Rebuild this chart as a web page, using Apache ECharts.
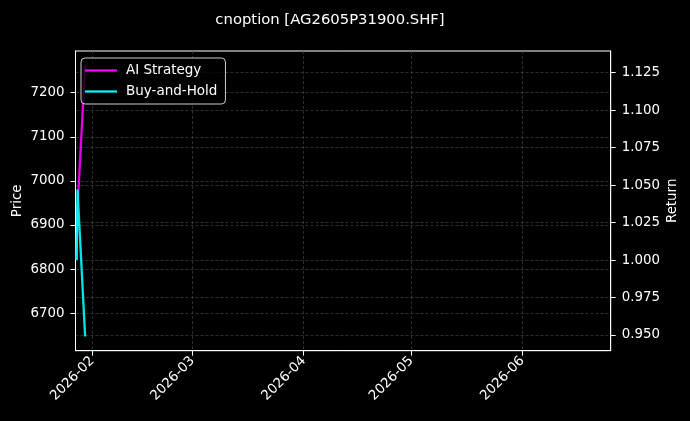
<!DOCTYPE html>
<html>
<head>
<meta charset="utf-8">
<script src="https://cdn.jsdelivr.net/npm/echarts@6/dist/echarts.min.js"></script>
<style>
  html, body { margin: 0; padding: 0; background: #000; }
  #chart { width: 690px; height: 421px; }
</style>
</head>
<body>
<div id="chart"></div>
<script>
// 数据
var dates = ['2026-01-27 15:00', '2026-01-27 21:00', '2026-01-30 00:00'];
var aiReturn = [1.000, 1.035, 1.130];
var bhReturn = [1.000, 1.047, 0.949];

// 刻度
var monthTicks = ['2026-02-01', '2026-03-01', '2026-04-01', '2026-05-01', '2026-06-01'];
var priceTicks = [6700, 6800, 6900, 7000, 7100, 7200];
var returnTicks = [0.950, 0.975, 1.000, 1.025, 1.050, 1.075, 1.100, 1.125];

// 轴范围
var xRange = ['2026-01-27 07:30', '2026-06-25 16:00'];
var priceRange = [6615, 7294.5];
var returnRange = [0.9395, 1.1395];

function ts(s) {
  if (s.length == 10) s = s + ' 00:00';
  return new Date(s.replace(' ', 'T')).getTime();
}

var font = 'DejaVu Sans';
var fs = 13.4;
var gridLine = {
  show: true,
  lineStyle: { color: '#4d4d4d', width: 0.6, type: [3, 2] }
};

var chart = echarts.init(document.getElementById('chart'));

chart.setOption({
  backgroundColor: '#000',
  textStyle: { fontFamily: font },
  title: {
    text: 'cnoption [AG2605P31900.SHF]',
    left: 325,
    top: 8,
    textAlign: 'center',
    textStyle: { color: '#fff', fontSize: 14.8, fontWeight: 'normal', fontFamily: font }
  },
  legend: {
    data: ['AI Strategy', 'Buy-and-Hold'],
    orient: 'vertical',
    left: 81,
    top: 58,
    padding: [5, 8, 5, 4],
    icon: 'rect',
    itemWidth: 32,
    itemHeight: 2.2,
    itemGap: 6,
    backgroundColor: 'rgba(0,0,0,0.8)',
    borderColor: '#cccccc',
    borderWidth: 1,
    borderRadius: 4,
    textStyle: { color: '#fff', fontSize: 13.5, fontFamily: font, lineHeight: 15, padding: [0, 0, 0, 4] }
  },
  grid: {
    left: 75.5,
    right: 79.3,
    top: 51,
    bottom: 70.3,
    outerBoundsMode: 'none',
    show: true,
    borderColor: '#fff',
    borderWidth: 1,
    backgroundColor: 'transparent'
  },
  xAxis: {
    type: 'value',
    min: ts(xRange[0]),
    max: ts(xRange[1]),
    axisLine: { show: true, lineStyle: { color: '#fff' } },
    axisTick: {
      show: true,
      length: 5,
      lineStyle: { color: '#fff' },
      customValues: monthTicks.map(ts)
    },
    axisLabel: {
      color: '#fff',
      fontSize: fs,
      fontFamily: font,
      rotate: 45,
      margin: 8,
      customValues: monthTicks.map(ts),
      formatter: function (v) {
        var d = new Date(v);
        var m = d.getMonth() + 1;
        return d.getFullYear() + '-' + (m < 10 ? '0' + m : m);
      }
    },
    splitLine: gridLine
  },
  yAxis: [
    {
      type: 'value',
      position: 'left',
      min: priceRange[0],
      max: priceRange[1],
      name: 'Price',
      nameLocation: 'middle',
      nameRotate: 90,
      nameGap: 51,
      nameMoveOverlap: false,
      nameTextStyle: { color: '#fff', fontSize: fs, fontFamily: font },
      axisLine: { show: true, lineStyle: { color: '#fff' } },
      axisTick: { show: true, length: 5, lineStyle: { color: '#fff' }, customValues: priceTicks },
      axisLabel: {
        color: '#fff', fontSize: fs, fontFamily: font, margin: 11,
        customValues: priceTicks,
        formatter: function (v) { return String(v); }
      },
      splitLine: gridLine
    },
    {
      type: 'value',
      position: 'right',
      min: returnRange[0],
      max: returnRange[1],
      name: 'Return',
      nameLocation: 'middle',
      nameRotate: 90,
      nameGap: 55,
      nameMoveOverlap: false,
      nameTextStyle: { color: '#fff', fontSize: fs, fontFamily: font },
      axisLine: { show: true, lineStyle: { color: '#fff' } },
      axisTick: { show: true, length: 5, lineStyle: { color: '#fff' }, customValues: returnTicks },
      axisLabel: {
        color: '#fff', fontSize: fs, fontFamily: font, margin: 11,
        customValues: returnTicks,
        formatter: function (v) { return v.toFixed(3); }
      },
      splitLine: gridLine
    }
  ],
  series: [
    {
      name: 'AI Strategy',
      type: 'line',
      yAxisIndex: 1,
      symbol: 'none',
      data: dates.map(function (d, i) { return [ts(d), aiReturn[i]]; }),
      lineStyle: { color: '#ff00ff', width: 2.3, opacity: 0.9 },
      itemStyle: { color: '#ff00ff' }
    },
    {
      name: 'Buy-and-Hold',
      type: 'line',
      yAxisIndex: 1,
      symbol: 'none',
      data: dates.map(function (d, i) { return [ts(d), bhReturn[i]]; }),
      lineStyle: { color: '#00ffff', width: 2.3, opacity: 0.9 },
      itemStyle: { color: '#00ffff' }
    }
  ]
});
</script>
</body>
</html>
